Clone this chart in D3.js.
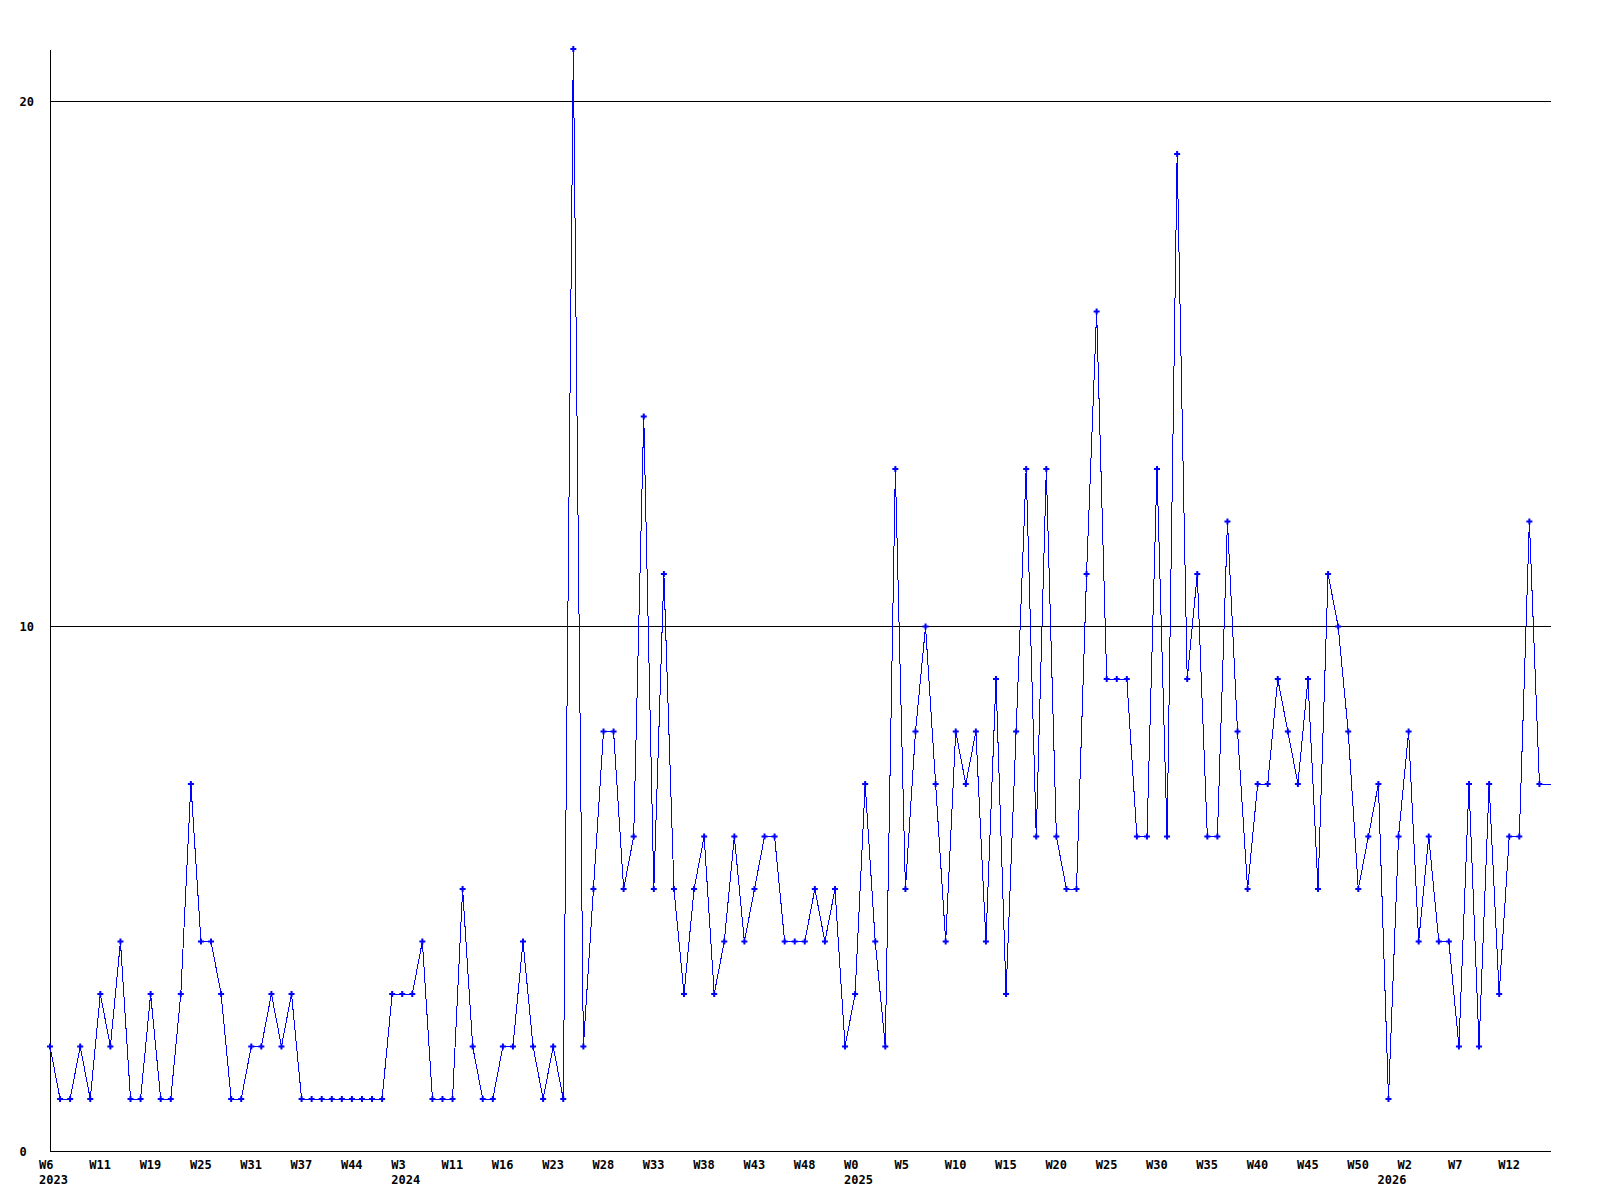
<!doctype html>
<html>
<head>
<meta charset="utf-8">
<script src="https://d3js.org/d3.v7.min.js"></script>
<style>
body { margin: 0; background: #fff; }
.lbl {
	font-family: "DejaVu Sans Mono", monospace;
	font-size: 12px;
	font-weight: bold;
	fill: #000;
}
.rule { stroke: #000; stroke-width: 1; shape-rendering: crispEdges; }
</style>
</head>
<body>
<script>

// weekly counts, one entry per reported week (weeks with nothing are not listed)
var counts = [2,1,1,2,1,3,2,4,1,1, 3,1,1,3,7,4,4,3,1,1,
	2,2,3,2,3,1,1,1,1,1, 1,1,1,1,3,3,3,4,1,1,
	1,5,2,1,1,2,2,4,2,1, 2,1,21,2,5,8,8,5,6,14,
	5,11,5,3,5,6,3,4,6,4, 5,6,6,4,4,4,5,4,5,2,
	3,7,4,2,13,5,8,10,7,4, 8,7,8,4,9,3,8,13,6,13,
	6,5,5,11,16,9,9,9,6,6, 13,6,19,9,11,6,6,12,8,5,
	7,7,9,8,7,9,5,11,10,8, 5,6,7,1,6,8,4,6,4,4,
	2,7,2,7,3,6,6,12,7];

// a week label every 5th point
var weekLabels = ["W6","W11","W19","W25","W31","W37","W44","W3","W11","W16",
	"W23","W28","W33","W38","W43","W48","W0","W5","W10","W15",
	"W20","W25","W30","W35","W40","W45","W50","W2","W7","W12"];
var tickStep = 5;

// year under the first point of each year
var years = ["2023","2024","2025","2026"];
var yearIndex = [0,35,80,133];

var yTicks = [0,10,20];

var width = 1600, height = 1200;
var plotLeft = 50, plotRight = 1551, plotTop = 50;

var svg = d3.select("body").append("svg").attr("width", width).attr("height", height);

var x = d3.scaleLinear().domain([0, counts.length]).range([plotLeft, 1549.5]);
var y = d3.scaleLinear().domain([0, 20]).range([1151.5, 101.5]);

// horizontal rules (0 is the x axis)
svg.selectAll(".grid").data(yTicks).enter().append("line")
	.attr("class", "rule")
	.attr("x1", plotLeft).attr("x2", plotRight)
	.attr("y1", d => y(d)).attr("y2", d => y(d));

svg.append("line").attr("class", "rule")
	.attr("x1", plotLeft + 0.5).attr("x2", plotLeft + 0.5)
	.attr("y1", plotTop).attr("y2", y(0));

svg.selectAll(".ylbl").data(yTicks).enter().append("text")
	.attr("class", "lbl")
	.attr("x", 19.5).attr("y", d => y(d))
	.attr("dy", "0.36em")
	.text(d => d);

// x labels
svg.selectAll(".wlbl").data(weekLabels).enter().append("text")
	.attr("class", "lbl")
	.attr("x", (d, i) => x(i * tickStep) - 11)
	.attr("y", 1169)
	.text(d => d);

svg.selectAll(".yrlbl").data(years).enter().append("text")
	.attr("class", "lbl")
	.attr("x", (d, i) => x(yearIndex[i]) - 11)
	.attr("y", 1184)
	.text(d => d);

// the series; last value runs on to the right edge
var pts = counts.map((v, i) => [x(i), y(v)]);
pts.push([plotRight, y(counts[counts.length - 1])]);

svg.append("path")
	.datum(pts)
	.attr("d", d3.line())
	.attr("fill", "none")
	.attr("stroke", "#0000ff")
	.attr("stroke-width", 1)
	.style("shape-rendering", "crispEdges");

svg.selectAll(".pt").data(counts).enter().append("path")
	.attr("d", d3.symbol(d3.symbolCross, 20))
	.attr("transform", (d, i) => "translate(" + x(i) + "," + y(d) + ")")
	.attr("fill", "#0000ff");

</script>
</body>
</html>
